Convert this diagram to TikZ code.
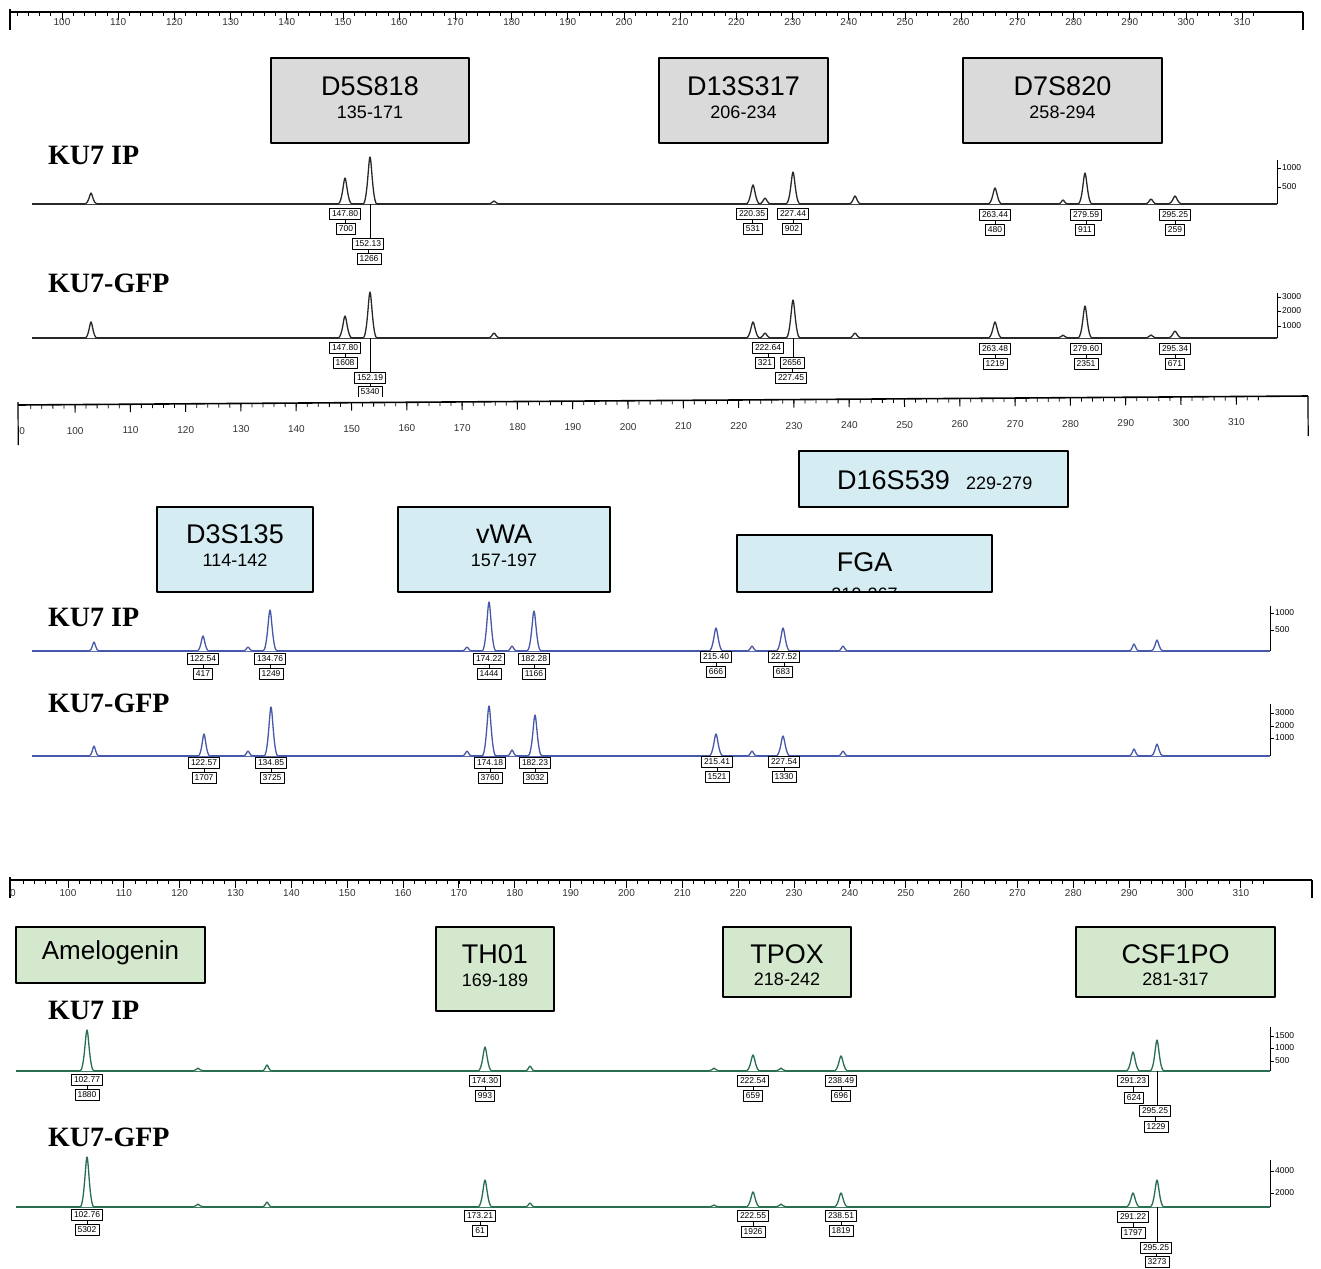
\documentclass[tikz,border=0pt]{standalone}
\usepackage{fontspec}
\setmainfont{Liberation Sans}
\newfontfamily\serifb{Liberation Serif}
\definecolor{grayfill}{RGB}{218,218,218}
\definecolor{bluefill}{RGB}{212,236,242}
\definecolor{greenfill}{RGB}{212,232,205}
\definecolor{trk}{RGB}{40,40,40}
\definecolor{trb}{RGB}{70,88,170}
\definecolor{trg}{RGB}{40,110,80}
\tikzset{
  locus/.style={draw=black, line width=2pt, inner sep=0pt},
  big/.style={font=\fontsize{27}{30}\selectfont, inner sep=0pt},
  small/.style={font=\fontsize{18}{20}\selectfont, inner sep=0pt},
  lbl/.style={draw, line width=0.7pt, fill=white, font=\fontsize{8.5}{9}\selectfont, inner xsep=2.5pt, inner ysep=1pt, minimum height=11pt},
  ku/.style={font=\serifb\bfseries\fontsize{28}{30}\selectfont, anchor=west, inner sep=0pt},
  rulab/.style={font=\fontsize{10}{11}\selectfont, text=black!80, inner sep=0pt},
  axlab/.style={font=\fontsize{8.5}{9}\selectfont, anchor=west, inner sep=0pt},
}
% peak: x, base, top, halfwidth
\newcommand{\pk}[4]{%
  \filldraw[fill=white] (#1-#4,#2) .. controls (#1-#4*0.4,#2) and (#1-#4*0.2,#3) .. (#1,#3) .. controls (#1+#4*0.2,#3) and (#1+#4*0.4,#2) .. (#1+#4,#2);}
% label pair: name, x1,y1,t1, x2,y2,t2
\newcommand{\labp}[7]{%
  \node[lbl] (#1a) at (#2,#3) {#4};
  \node[lbl] (#1b) at (#5,#6) {#7};
  \draw[line width=0.6pt] (#1a.south) -- (#1a.south |- #1b.north);}
% right axis: x, ytop, ybase, list
\newcommand{\yax}[4]{%
  \draw[line width=0.8pt] (#1,#2) -- (#1,#3);
  \foreach \yy/\tt in {#4} {\draw[line width=0.8pt] (#1,\yy) -- (#1+4,\yy); \node[axlab] at (#1+5,\yy) {\tt};}}
% ruler: prefix, x100, ppu, yline, xleft, xright, tickend, labeloffset, vertlen
\newcommand{\myruler}[9]{%
  \draw[line width=1.6pt] (#5,#4) -- (#6,#4);
  \draw[line width=1.2pt] (#5,#4-3) -- (#5,#4+#9);
  \draw[line width=1.2pt] (#6,#4) -- (#6,#4+#9);
  \foreach \s in {92,94,...,#7} {\draw[line width=0.8pt] ({#2+(\s-100)*#3},#4) -- ({#2+(\s-100)*#3},#4+4);}
  \foreach \s in {100,110,...,310} {\draw[line width=1pt] ({#2+(\s-100)*#3},#4) -- ({#2+(\s-100)*#3},#4+8);
     \node[rulab] (#1\s) at ({#2+(\s-100)*#3},#4+#8) {\s};}}
\begin{document}
\begin{tikzpicture}[x=1pt,y=-1pt,line join=round]
\useasboundingbox[fill=white] (0,0) rectangle (1321,1268);

% ================= PANEL 1 =================
\myruler{ra}{62}{5.62}{12}{10}{1303}{312}{10}{18}

\node[locus, fill=grayfill, minimum width=198pt, minimum height=85pt] (d5) at (370,100.5) {};
\node[big] (d5t) at (370,86) {D5S818};
\node[small] (d5r) at (370,112) {135-171};
\node[locus, fill=grayfill, minimum width=169pt, minimum height=85pt] (d13) at (743.5,100.5) {};
\node[big] (d13t) at (743.5,86) {D13S317};
\node[small] (d13r) at (743.5,112) {206-234};
\node[locus, fill=grayfill, minimum width=199pt, minimum height=85pt] (d7) at (1062.5,100.5) {};
\node[big] (d7t) at (1062.5,86) {D7S820};
\node[small] (d7r) at (1062.5,112) {258-294};

\node[ku] (k1) at (48,155) {KU7 IP};
\node[ku] (k2) at (48,283) {KU7-GFP};

\begin{scope}[draw=trk, line width=1.3pt]
\draw (32,204) -- (1277,204);
\foreach \a/\b/\c in {91/193/6, 494/201/6, 765/198/6, 855/196/6, 1063/200/5, 1151/199/6, 345/178/7, 370/157/7, 753/185/7, 793/172/7, 995/188/7, 1085/173/7, 1175/196/7} {\pk{\a}{204}{\b}{\c}}
\draw (32,338) -- (1277,338);
\foreach \a/\b/\c in {91/322/6, 494/333/6, 765/333/6, 855/333/6, 1063/335/5, 1151/335/6, 345/316/7, 370/292/7, 753/322/7, 793/300/7, 995/322/7, 1085/306/7, 1175/331/7} {\pk{\a}{338}{\b}{\c}}
\end{scope}
\yax{1277}{160}{204}{168/1000, 187/500}
\yax{1277}{293}{338}{297/3000, 311/2000, 326/1000}

\labp{pa}{345}{214}{147.80}{346}{229}{700}
\labp{pb}{368}{244}{152.13}{369}{259}{1266}
\coordinate (ca) at (370,204);
\draw[line width=0.6pt] (ca) -- (ca |- pba.north);
\labp{pc}{752}{214}{220.35}{753}{229}{531}
\labp{pd}{793}{214}{227.44}{792}{229}{902}
\labp{pe}{995}{215}{263.44}{995}{230}{480}
\labp{pf}{1086}{215}{279.59}{1085}{230}{911}
\labp{pg}{1175}{215}{295.25}{1175}{230}{259}

\labp{qa}{345}{348}{147.80}{345}{363}{1608}
\begin{scope}
\clip (0,0) rectangle (1321,396);
\labp{qb}{370}{378}{152.19}{370}{392}{5340}
\end{scope}
\coordinate (cb) at (370,338);
\draw[line width=0.6pt] (cb) -- (cb |- qba.north);
\labp{qc}{768}{348}{222.64}{765}{363}{321}
\labp{qd}{792}{363}{2656}{791}{378}{227.45}
\coordinate (cc) at (793,338);
\draw[line width=0.6pt] (cc) -- (cc |- qda.north);
\labp{qe}{995}{349}{263.48}{995}{364}{1219}
\labp{qf}{1086}{349}{279.60}{1086}{364}{2351}
\labp{qg}{1175}{349}{295.34}{1175}{364}{671}

% ================= PANEL 2 =================
\begin{scope}[rotate around={0.4:(18,405)}]
\myruler{rb}{75}{5.53}{405}{18}{1308}{314}{26}{40}
\node[rulab] (rb90) at (22,431) {0};
\end{scope}

\node[locus, fill=bluefill, minimum width=269pt, minimum height=56pt] (d16) at (933.5,479) {};
\node[big, anchor=base east] (d16t) at (950,489) {D16S539};
\node[small, anchor=base west] (d16r) at (966,489) {229-279};
\node[locus, fill=bluefill, minimum width=156pt, minimum height=85pt] (d3) at (235,549.5) {};
\node[big] (d3t) at (235,534) {D3S135};
\node[small] (d3r) at (235,560) {114-142};
\node[locus, fill=bluefill, minimum width=212pt, minimum height=85pt] (vwa) at (504,549.5) {};
\node[big] (vwat) at (504,534) {vWA};
\node[small] (vwar) at (504,560) {157-197};
\node[fill=bluefill, inner sep=0pt, minimum width=255pt, minimum height=57pt] (fga) at (864.5,563.5) {};
\node[big] (fgat) at (864.5,562) {FGA};
\begin{scope}
\clip (738,536) rectangle (991,590.5);
\node[small] (fgar) at (864.5,594) {219-267};
\end{scope}
\draw[line width=2pt] (fga.north west) rectangle (fga.south east);

\node[ku] (k3) at (48,617) {KU7 IP};
\node[ku] (k4) at (48,703) {KU7-GFP};

\begin{scope}[draw=trb, line width=1.3pt]
\draw (32,651) -- (1270,651);
\foreach \a/\b/\c in {94/642/5, 248/647/5, 467/647/5, 512/646/5, 752/646/5, 843/646/5, 1134/644/5, 1157/640/6, 203/636/6, 270/610/7, 489/602/7, 534/611/7, 716/628/7, 783/628/7} {\pk{\a}{651}{\b}{\c}}
\draw (32,756) -- (1270,756);
\foreach \a/\b/\c in {94/746/5, 248/751/5, 467/751/5, 512/750/5, 752/751/5, 843/751/5, 1134/749/5, 1157/744/6, 204/734/6, 271/707/7, 489/706/7, 535/715/7, 716/734/7, 783/736/7} {\pk{\a}{756}{\b}{\c}}
\end{scope}
\yax{1270}{606}{651}{613/1000, 630/500}
\yax{1270}{704}{756}{713/3000, 726/2000, 738/1000}

\labp{sa}{203}{659}{122.54}{203}{674}{417}
\labp{sb}{270}{659}{134.76}{271}{674}{1249}
\labp{sc}{489}{659}{174.22}{489}{674}{1444}
\labp{sd}{534}{659}{182.28}{534}{674}{1166}
\labp{se}{716}{657}{215.40}{716}{672}{666}
\labp{sf}{784}{657}{227.52}{783}{672}{683}

\labp{ta}{204}{763}{122.57}{204}{778}{1707}
\labp{tb}{271}{763}{134.85}{272}{778}{3725}
\labp{tc}{490}{763}{174.18}{490}{778}{3760}
\labp{td}{535}{763}{182.23}{535}{778}{3032}
\labp{te}{717}{762}{215.41}{717}{777}{1521}
\labp{tf}{784}{762}{227.54}{784}{777}{1330}

% ================= PANEL 3 =================
\myruler{rc}{68}{5.585}{880}{10}{1312}{314}{13}{18}
\node[rulab] (rc90) at (13,893) {0};

\node[locus, fill=greenfill, minimum width=189pt, minimum height=56pt] (amel) at (110.5,955) {};
\node[font=\fontsize{26}{28}\selectfont, inner sep=0pt] (amelt) at (110.5,953) {Amelogenin};
\node[locus, fill=greenfill, minimum width=118pt, minimum height=84pt] (th) at (495,969) {};
\node[big] (tht) at (495,954) {TH01};
\node[small] (thr) at (495,980) {169-189};
\node[locus, fill=greenfill, minimum width=128pt, minimum height=70pt] (tpox) at (787,962) {};
\node[big] (tpoxt) at (787,954) {TPOX};
\node[small] (tpoxr) at (787,979) {218-242};
\node[locus, fill=greenfill, minimum width=199pt, minimum height=70pt] (csf) at (1175.5,962) {};
\node[big] (csft) at (1175.5,954) {CSF1PO};
\node[small] (csfr) at (1175.5,979) {281-317};

\node[ku] (k5) at (48,1010) {KU7 IP};
\node[ku] (k6) at (48,1137) {KU7-GFP};

\begin{scope}[draw=trg, line width=1.3pt]
\draw (16,1071) -- (1270,1071);
\foreach \a/\b/\c in {198/1068/5, 267/1065/5, 530/1066/5, 714/1068/5, 781/1068/5, 87/1030/7, 485/1047/7, 753/1055/7, 841/1056/7, 1133/1052/7, 1157/1040/7} {\pk{\a}{1071}{\b}{\c}}
\draw (16,1207) -- (1270,1207);
\foreach \a/\b/\c in {198/1204/5, 267/1202/5, 530/1203/5, 714/1205/5, 781/1204/5, 87/1157/7, 485/1180/7, 753/1192/7, 841/1193/7, 1133/1193/7, 1157/1180/7} {\pk{\a}{1207}{\b}{\c}}
\end{scope}
\yax{1270}{1027}{1071}{1036/1500, 1048/1000, 1061/500}
\yax{1270}{1160}{1207}{1171/4000, 1193/2000}

\labp{ua}{87}{1080}{102.77}{87}{1095}{1880}
\labp{ub}{485}{1081}{174.30}{485}{1096}{993}
\labp{uc}{753}{1081}{222.54}{753}{1096}{659}
\labp{ud}{841}{1081}{238.49}{841}{1096}{696}
\labp{ue}{1133}{1081}{291.23}{1134}{1098}{624}
\labp{uf}{1155}{1111}{295.25}{1156}{1127}{1229}
\coordinate (cd) at (1157,1071);
\draw[line width=0.6pt] (cd) -- (cd |- ufa.north);

\labp{va}{87}{1215}{102.76}{87}{1230}{5302}
\labp{vb}{480}{1216}{173.21}{480}{1231}{61}
\labp{vc}{753}{1216}{222.55}{753}{1232}{1926}
\labp{vd}{841}{1216}{238.51}{841}{1231}{1819}
\labp{ve}{1133}{1217}{291.22}{1133}{1233}{1797}
\labp{vf}{1156}{1248}{295.25}{1157}{1262}{3273}
\coordinate (ce) at (1157,1207);
\draw[line width=0.6pt] (ce) -- (ce |- vfa.north);
\end{tikzpicture}
\end{document}
